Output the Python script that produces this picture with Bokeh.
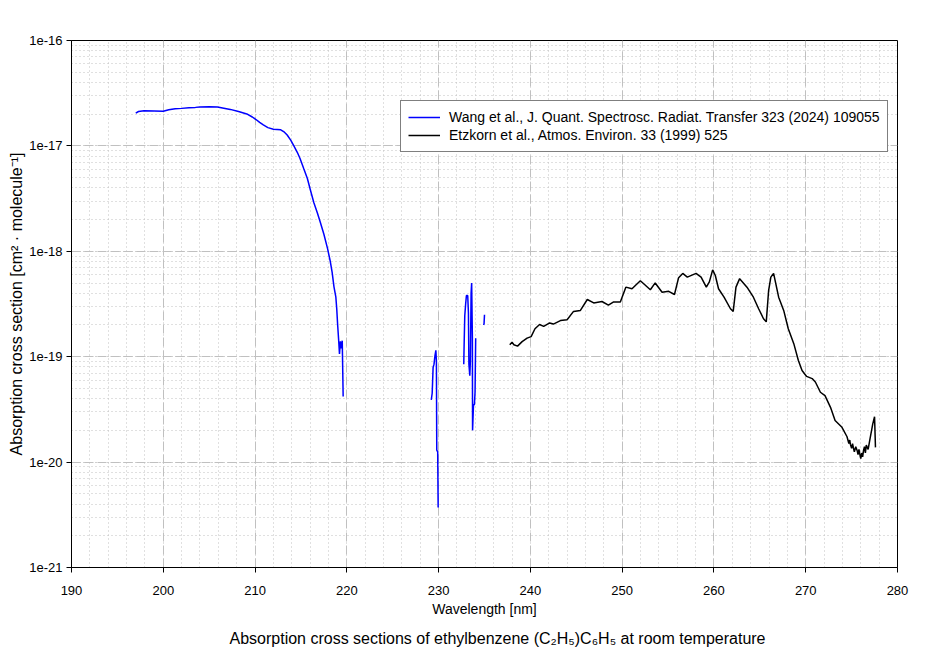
import math
from bokeh.plotting import figure
from bokeh.models import (SingleIntervalTicker, LogTicker, CustomJSTickFormatter,
                          Legend, LegendItem, Title, Range1d)
from bokeh.embed import file_html
from bokeh.resources import INLINE

NAN = float("nan")

# ---- Wang et al. (2024), blue ----
wang_main_wl = [197.0, 197.3, 197.9, 199.0, 200.0, 200.6, 201.3, 202.0, 202.8, 203.5,
                204.0, 205.0, 205.9, 206.6, 207.3, 208.2, 209.1, 209.7, 210.1, 210.5,
                210.9, 211.4, 212.0, 212.8, 213.2, 213.5, 213.9, 214.2, 214.6, 214.9,
                215.3, 215.7, 216.0, 216.4, 216.8, 217.1, 217.5, 217.9, 218.2, 218.4,
                218.6, 218.8, 218.9, 219.0, 219.1, 219.2, 219.3, 219.4, 219.5, 219.6]
wang_main_xs = [2.05e-17, 2.12e-17, 2.15e-17, 2.14e-17, 2.13e-17, 2.20e-17, 2.25e-17, 2.27e-17, 2.30e-17, 2.32e-17,
                2.34e-17, 2.35e-17, 2.34e-17, 2.28e-17, 2.22e-17, 2.12e-17, 2.01e-17, 1.88e-17, 1.78e-17, 1.67e-17,
                1.58e-17, 1.49e-17, 1.44e-17, 1.42e-17, 1.35e-17, 1.27e-17, 1.13e-17, 1.01e-17, 8.7e-18, 7.6e-18,
                6.1e-18, 4.9e-18, 3.9e-18, 2.9e-18, 2.3e-18, 1.9e-18, 1.45e-18, 1.06e-18, 8.0e-19, 6.3e-19,
                4.6e-19, 3.7e-19, 2.85e-19, 2.0e-19, 1.48e-19, 1.06e-19, 1.40e-19, 1.20e-19, 1.42e-19, 4.2e-20]

wang_seg2_wl = [229.2, 229.3, 229.4, 229.5, 229.6, 229.7, 229.76, 229.8, 229.9, 229.95]
wang_seg2_xs = [3.9e-20, 4.5e-20, 7.9e-20, 8.5e-20, 1.02e-19, 1.15e-19, 9.1e-20, 1.3e-20, 1.25e-20, 3.7e-21]

wang_seg3_wl = [232.74, 232.78, 232.85, 232.95, 233.03, 233.17, 233.25, 233.3, 233.4, 233.46,
                233.54, 233.6, 233.68, 233.7, 233.8, 233.9, 233.97, 234.04]
wang_seg3_xs = [8.5e-20, 1.3e-19, 2.45e-19, 3.2e-19, 3.8e-19, 3.8e-19, 2.6e-19, 8.5e-20, 6.6e-20, 9.1e-20,
                4.0e-19, 5.0e-19, 1.5e-19, 2.0e-20, 3.5e-20, 3.5e-20, 4.6e-20, 1.5e-19]

wang_seg4_wl = [234.9, 234.95, 235.0]
wang_seg4_xs = [2.0e-19, 2.05e-19, 2.5e-19]

# ---- Etzkorn et al. (1999), black ----
etz_wl = [237.75, 238.0, 238.2, 238.6, 239.1, 239.64, 240.08, 240.5, 241.0, 241.45,
          242.1, 242.5, 243.27, 244.0, 244.7, 245.45, 246.2, 246.9, 247.8, 248.5,
          249.07, 249.8, 250.4, 251.07, 251.98, 253.07, 253.6, 254.35, 255.07, 255.7,
          256.15, 256.6, 257.1, 258.05, 258.6, 259.17, 259.5, 259.86, 260.15, 260.5,
          261.1, 261.8, 262.1, 262.4, 262.8, 263.6, 264.3, 264.87, 265.4, 265.7,
          265.96, 266.2, 266.5, 267.05, 267.6, 268.1, 268.7, 269.2, 269.6, 270.1,
          270.7, 271.05, 271.6, 272.1, 272.7, 273.2, 273.95, 274.5, 274.7, 274.8,
          274.86, 275.0, 275.1, 275.2, 275.3, 275.45, 275.6, 275.7, 275.8, 275.95,
          276.0, 276.1, 276.2, 276.3, 276.4, 276.5, 276.6, 276.7, 276.8, 276.96,
          277.3, 277.5, 277.6]
etz_xs = [1.30e-19, 1.37e-19, 1.30e-19, 1.26e-19, 1.39e-19, 1.50e-19, 1.55e-19, 1.84e-19, 2.02e-19, 1.94e-19,
          2.09e-19, 2.04e-19, 2.20e-19, 2.24e-19, 2.69e-19, 2.75e-19, 3.49e-19, 3.24e-19, 3.34e-19, 3.09e-19,
          3.31e-19, 3.31e-19, 4.57e-19, 4.41e-19, 5.25e-19, 4.32e-19, 5.01e-19, 4.09e-19, 4.17e-19, 3.89e-19,
          5.62e-19, 6.17e-19, 5.69e-19, 6.17e-19, 5.69e-19, 4.57e-19, 5.13e-19, 6.67e-19, 5.89e-19, 4.41e-19,
          3.67e-19, 2.85e-19, 2.69e-19, 4.57e-19, 5.50e-19, 4.57e-19, 3.67e-19, 2.85e-19, 2.29e-19, 2.14e-19,
          4.27e-19, 5.69e-19, 6.17e-19, 3.67e-19, 2.75e-19, 1.84e-19, 1.33e-19, 9.2e-20, 7.4e-20, 6.5e-20,
          6.2e-20, 5.75e-20, 4.6e-20, 4.27e-20, 3.31e-20, 2.48e-20, 2.14e-20, 1.74e-20, 1.50e-20, 1.62e-20,
          1.48e-20, 1.35e-20, 1.50e-20, 1.36e-20, 1.25e-20, 1.40e-20, 1.29e-20, 1.18e-20, 1.32e-20, 1.12e-20,
          1.08e-20, 1.22e-20, 1.12e-20, 1.29e-20, 1.40e-20, 1.22e-20, 1.45e-20, 1.38e-20, 1.32e-20, 1.58e-20,
          2.29e-20, 2.69e-20, 1.38e-20]

legend_labels = ["Wang et al., J. Quant. Spectrosc. Radiat. Transfer 323 (2024) 109055",
                 "Etzkorn et al., Atmos. Environ. 33 (1999) 525"]
x_label = "Wavelength [nm]"
y_label = "Absorption cross section [cm\u00b2 \u00b7 molecule\u207b\u00b9]"
title_text = "Absorption cross sections of ethylbenzene (C\u2082H\u2085)C\u2086H\u2085 at room temperature"

FONT = "Liberation Sans"

wang_wl = wang_main_wl + [NAN] + wang_seg2_wl + [NAN] + wang_seg3_wl + [NAN] + wang_seg4_wl
wang_xs = wang_main_xs + [NAN] + wang_seg2_xs + [NAN] + wang_seg3_xs + [NAN] + wang_seg4_xs

p = figure(width=921, height=659, x_range=Range1d(190, 280), y_range=Range1d(1e-21, 1e-16),
           y_axis_type="log", output_backend="svg", toolbar_location=None,
           min_border_left=71, min_border_right=24, min_border_top=40, min_border_bottom=92)
p.background_fill_color = "white"
p.border_fill_color = "white"
p.outline_line_color = "black"
p.outline_line_width = 1

r1 = p.line(wang_wl, wang_xs, line_color="#0000ff", line_width=1.5)
r2 = p.line(etz_wl, etz_xs, line_color="black", line_width=1.5)

# axes
p.xaxis.ticker = SingleIntervalTicker(interval=10, num_minor_ticks=5)
p.yaxis.ticker = LogTicker(num_minor_ticks=10, desired_num_ticks=6)
p.yaxis.formatter = CustomJSTickFormatter(code="return tick.toExponential(0);")
for ax in (p.xaxis[0], p.yaxis[0]):
    ax.axis_line_color = "black"
    ax.major_tick_line_color = "black"
    ax.major_tick_in = 0
    ax.major_tick_out = 5
    ax.minor_tick_line_color = None
    ax.major_label_text_font = FONT
    ax.major_label_text_font_size = "13px"
    ax.major_label_text_color = "black"
    ax.axis_label_text_font = FONT
    ax.axis_label_text_font_style = "normal"
    ax.axis_label_text_color = "black"
p.xaxis.axis_label = x_label
p.yaxis.axis_label = y_label
p.xaxis.axis_label_text_font_size = "14px"
p.yaxis.axis_label_text_font_size = "16px"
p.xaxis.major_label_standoff = 13
p.xaxis.axis_label_standoff = 3
p.yaxis.major_label_standoff = 4
p.yaxis.axis_label_standoff = 1

# grids
for g in (p.xgrid[0], p.ygrid[0]):
    g.grid_line_color = "#c0c0c0"
    g.grid_line_dash = "9 4"
    g.grid_line_width = 1
    g.minor_grid_line_color = "#c0c0c0"
    g.minor_grid_line_dash = "1 3"
    g.minor_grid_line_width = 1

legend = Legend(items=[LegendItem(label=legend_labels[0], renderers=[r1]),
                       LegendItem(label=legend_labels[1], renderers=[r2])],
                location=(329, 415))
legend.label_text_font = FONT
legend.label_text_font_size = "14px"
legend.label_text_color = "black"
legend.glyph_width = 32
legend.glyph_height = 18
legend.label_height = 18
legend.label_standoff = 9
legend.spacing = 0
legend.padding = 7
legend.margin = 0
legend.border_line_color = "black"
legend.border_line_width = 1
legend.background_fill_color = "white"
legend.background_fill_alpha = 1.0
p.add_layout(legend, "center")

t = Title(text=title_text, align="left", offset=158, text_font=FONT, text_font_size="16px",
          text_font_style="normal", text_color="black")
if "standoff" in Title.properties():
    t.standoff = 17
p.add_layout(t, "below")

open("out.html", "w").write(file_html(p, INLINE))
